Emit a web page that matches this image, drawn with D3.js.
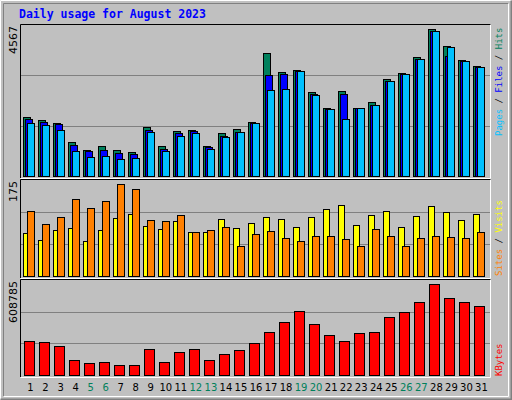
<!DOCTYPE html>
<html><head><meta charset="utf-8">
<script src="https://cdn.jsdelivr.net/npm/d3@7"></script>
<style>body{margin:0;background:#fff}</style>
</head><body>
<script>
// daily values
var days = d3.range(1, 32);
var weekend = [5, 6, 12, 13, 19, 20, 26, 27];
var hits  = [1788,1707,1607,1014,795,894,795,734,1487,894,1367,1406,915,1306,1436,1637,3714,3142,3203,2550,2059,2580,2059,2240,2932,3121,3594,4437,3934,3503,3323];
var files = [1727,1637,1577,945,765,795,704,674,1396,825,1306,1376,885,1216,1336,1607,3052,3082,3172,2489,2029,2489,2059,2149,2871,3082,3534,4377,3633,3473,3293];
var pages = [1607,1547,1396,765,584,614,524,554,1336,765,1216,1306,825,1186,1336,1607,2600,2631,3172,2450,2029,1727,2059,2149,2871,3082,3534,4377,3895,3473,3293];
var visits = [79,66,84,88,64,84,106,113,91,86,100,81,81,104,88,97,108,104,90,108,122,129,93,111,118,90,110,128,117,102,113];
var sites  = [118,95,108,140,124,137,167,158,102,100,111,81,84,90,55,77,82,70,63,73,73,68,55,86,73,55,70,73,72,70,81];
var kbytes = [217800,211500,186400,98500,79700,86000,60900,60900,167600,86000,148700,167600,98500,136200,161300,205200,274300,337000,412300,324500,255400,217800,268000,274300,374700,406000,468800,581800,493900,468800,443700];
var maxHits = 4567, maxVisits = 175, maxKB = 608785;

var W = 512, H = 400;
var svg = d3.select("body").append("svg").attr("width", W).attr("height", H)
	.style("font-family", "'DejaVu Sans Mono', monospace");

// outer frame
svg.append("rect").attr("width", W).attr("height", H).attr("fill", "#c0c0c0");
svg.append("path").attr("d", "M0.5,399.5V0.5H511.5").attr("stroke", "#fff").attr("fill", "none");
svg.append("path").attr("d", "M0.5,399.5H511.5V0.5").attr("stroke", "#808080").attr("stroke-width", 2).attr("fill", "none");
svg.append("path").attr("d", "M3.5,396.5V3.5H508.5").attr("stroke", "#808080").attr("fill", "none");
svg.append("path").attr("d", "M3.5,396.5H508.5V3.5").attr("stroke", "#fff").attr("fill", "none");

svg.append("text").attr("x", 19).attr("y", 18).text("Daily usage for August 2023")
	.attr("fill", "#0000ff").attr("font-weight", "bold").attr("font-size", 11.5);

var x = d3.scaleBand().domain(days).range([24, 490]);
var cx = function(d){ return x(d) + x.bandwidth() / 2 - 1; };

function panel(top, bottom, max, label, parts) {
	var y = d3.scaleLinear().domain([0, max]).range([bottom, top]);
	var g = svg.append("g");
	g.append("rect").attr("x", 21).attr("y", top).attr("width", 469).attr("height", bottom - top + 2).attr("fill", "#c0c0c0");
	[1, 2].forEach(function(i){
		var yy = Math.round(top + (bottom - top) * i / 3) + 0.5;
		g.append("line").attr("x1", 21).attr("x2", 490).attr("y1", yy).attr("y2", yy).attr("stroke", "#808080");
	});
	g.append("path").attr("d", "M20.5," + (bottom + 2) + "V" + (top - 0.5) + "H491").attr("stroke", "#000").attr("fill", "none");
	g.append("path").attr("d", "M20.5," + (bottom + 2.5) + "H490.5V" + (top - 0.5)).attr("stroke", "#fff").attr("fill", "none");
	g.append("text").attr("transform", "translate(17," + (top + 1) + ") rotate(-90)")
		.attr("text-anchor", "end").attr("font-size", 11).attr("font-family", "'DejaVu Sans',sans-serif").text(label);
	parts.forEach(function(p){
		g.selectAll(null).data(p.vals).enter().append("rect")
			.attr("x", function(d, i){ return Math.round(cx(days[i]) + p.off) + 0.5; })
			.attr("y", function(d){ return Math.round(y(d)) + 0.5; })
			.attr("width", p.w)
			.attr("height", function(d){ return Math.round(bottom - y(d)); })
			.attr("fill", p.color).attr("stroke", "#000");
	});
	return g;
}

panel(25, 176, maxHits, "4567", [
	{vals: hits, color: "#00805c", off: -8, w: 7},
	{vals: files, color: "#0000ff", off: -6, w: 7},
	{vals: pages, color: "#00c0ff", off: -4, w: 7}
]);
panel(180, 276, maxVisits, "175", [
	{vals: visits, color: "#ffff00", off: -8, w: 6},
	{vals: sites, color: "#ff8000", off: -4, w: 7}
]);
panel(280, 375, maxKB, "608785", [
	{vals: kbytes, color: "#ff0000", off: -7, w: 10}
]);

// day labels
svg.selectAll(".day").data(days).enter().append("text")
	.attr("x", function(d){ return cx(d); }).attr("y", 391)
	.attr("text-anchor", "middle").attr("font-size", 10).attr("font-family", "'DejaVu Sans',sans-serif")
	.attr("fill", function(d){ return weekend.indexOf(d) >= 0 ? "#00805c" : "#000"; })
	.text(function(d){ return d; });

// right side legends, read bottom to top
function legend(yBottom, items) {
	var t = svg.append("text").attr("transform", "translate(502," + yBottom + ") rotate(-90)")
		.attr("font-size", 9).attr("font-family", "'DejaVu Sans Mono',monospace");
	items.forEach(function(it){
		t.append("tspan").attr("fill", it[1]).text(it[0]);
	});
}
legend(136, [["Pages", "#00c0ff"], [" / ", "#000"], ["Files", "#0000ff"], [" / ", "#000"], ["Hits", "#00805c"]]);
legend(276, [["Sites", "#ff8000"], [" / ", "#000"], ["Visits", "#ffff00"]]);
legend(376, [["KBytes", "#ff0000"]]);
</script>
</body></html>
